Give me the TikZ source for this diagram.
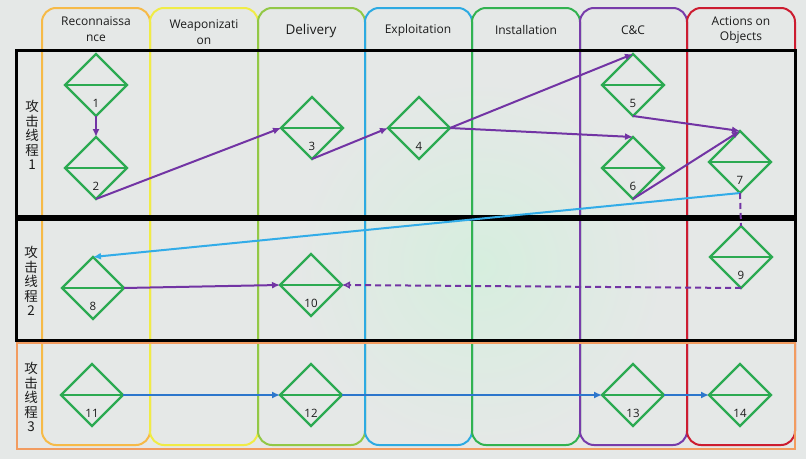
\documentclass[tikz,border=0pt]{standalone}
\usepackage{fontspec}
\setmainfont{Open Sans}
\newfontfamily\cjk{Noto Sans CJK SC}
\usetikzlibrary{shapes.geometric,arrows.meta}
\definecolor{bgc}{RGB}{229,232,231}
\definecolor{glow}{RGB}{214,238,222}
\definecolor{colA}{RGB}{246,186,72}
\definecolor{colB}{RGB}{240,236,70}
\definecolor{colC}{RGB}{146,200,70}
\definecolor{colD}{RGB}{45,170,226}
\definecolor{colE}{RGB}{50,178,80}
\definecolor{colF}{RGB}{120,60,170}
\definecolor{colG}{RGB}{204,28,48}
\definecolor{rowor}{RGB}{242,156,96}
\definecolor{diag}{RGB}{44,170,82}
\definecolor{purp}{RGB}{114,52,164}
\definecolor{lblue}{RGB}{50,172,232}
\definecolor{dblue}{RGB}{44,118,204}
\definecolor{txt}{RGB}{28,28,28}
\begin{document}
\begin{tikzpicture}[x=1pt,y=-1pt,
  col/.style={line width=2pt,rounded corners=14pt},
  head/.style={font=\fontsize{12}{15.5}\selectfont,text=txt,align=center,inner sep=0pt},
  rowbox/.style={line width=3pt,draw=black},
  row3box/.style={line width=2.2pt,draw=rowor},
  rowlab/.style={font=\cjk\fontsize{13.5}{14.5}\selectfont,text=txt,align=center,inner sep=0pt},
  dia/.style={diamond,draw=diag,line width=2.2pt,minimum width=62pt,minimum height=62pt,inner sep=0pt,outer sep=0pt},
  midline/.style={draw=diag,line width=2.2pt},
  num/.style={font=\fontsize{11.5}{13}\selectfont,text=txt,inner sep=0pt},
  parr/.style={draw=purp,line width=2pt,-{Latex[length=8pt,width=7pt]}},
  pdash/.style={draw=purp,line width=2pt,dash pattern=on 6pt off 4pt},
  pdasharr/.style={pdash,-{Latex[length=8pt,width=8pt,open]}},
  barr/.style={draw=lblue,line width=2pt,-{Latex[length=8pt,width=7pt]}},
  darr/.style={draw=dblue,line width=2pt,-{Latex[length=8pt,width=7pt]}}
]
\useasboundingbox (0,0) rectangle (806,458);
\fill[bgc] (-2,-2) rectangle (808,460);
\shade[inner color=glow,outer color=bgc] (480,265) circle (185);

% columns
\draw[col,colA] (42,8) rectangle (150,445);
\draw[col,colB] (150,8) rectangle (258,445);
\draw[col,colC] (258,8) rectangle (365,445);
\draw[col,colD] (365,8) rectangle (472,445);
\draw[col,colE] (472,8) rectangle (580,445);
\draw[col,colF] (580,8) rectangle (687,445);
\draw[col,colG] (687,8) rectangle (795,445);

% headers
\node[head] (h1) at (96,29) {Reconnaissa\\nce};
\node[head] (h2) at (204,32) {Weaponizati\\on};
\node[head,font=\fontsize{13.5}{15}\selectfont] (h3) at (311,31) {Delivery};
\node[head] (h4) at (418,30) {Exploitation};
\node[head] (h5) at (526,30) {Installation};
\node[head] (h6) at (633,30) {C\&C};
\node[head] (h7) at (741,30) {Actions on\\Objects};

% rows
\draw[rowbox] (16,50) rectangle (795,216);
\draw[rowbox] (16,219) rectangle (795,340);
\draw[row3box] (17,343) rectangle (795,449);

\node[rowlab] (r1) at (32,135) {攻\\击\\线\\程\\1};
\node[rowlab] (r2) at (31,281) {攻\\击\\线\\程\\2};
\node[rowlab] (r3) at (31,397) {攻\\击\\线\\程\\3};

% diamonds
\foreach \n/\x/\y in {1/96/85,2/96/168,3/312/128,4/419/128,5/633/85,6/633/168,7/740/162,
  8/93/288,9/741/257,10/311/285,11/92/395,12/311/395,13/633/395,14/740/395}{
  \node[dia] (d\n) at (\x,\y) {};
  \draw[midline] (d\n.west) -- (d\n.east);
  \node[num] (t\n) at ([yshift=-18pt]d\n.center) {\n};
}

% connectors
\draw[parr] (d1.south) -- (d2.north);
\draw[parr] (d2.south) -- (d3.west);
\draw[parr] (d3.south) -- (d4.west);
\draw[parr] (d4.east) -- (d5.north);
\draw[parr] (d4.east) -- (d6.north);
\draw[parr] (d5.south) -- (d7.north);
\draw[parr] (d6.south) -- (d7.north);
\draw[barr] (d7.south) -- (d8.north);
\draw[pdash] (d7.south) -- (d9.north);
\draw[pdasharr] (d9.south) -- (d10.east);
\draw[parr] (d8.east) -- (d10.west);
\draw[darr] (d11.east) -- (d12.west);
\draw[darr] (d12.east) -- (d13.west);
\draw[darr] (d13.east) -- (d14.west);
\end{tikzpicture}
\end{document}
